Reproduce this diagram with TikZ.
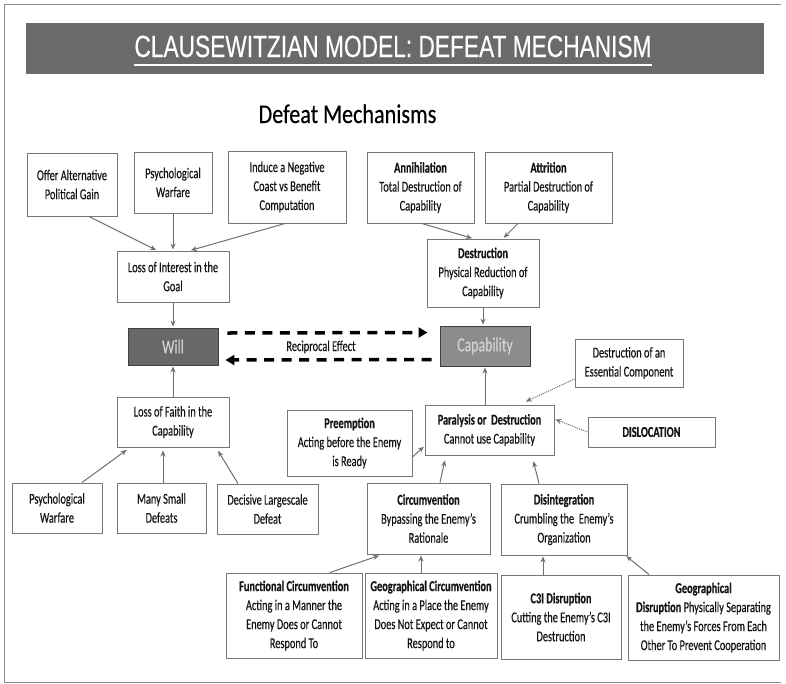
\documentclass[tikz,border=0pt]{standalone}
\usepackage{fontspec}
\setmainfont{Carlito}[FakeStretch=0.69, FakeBold=0.35]
\newfontfamily\titlefont{Liberation Sans}[FakeStretch=0.74, FakeBold=0.3]
\newfontfamily\headfont{Carlito}[FakeStretch=0.82, FakeBold=0.3]
\usetikzlibrary{arrows.meta}

\definecolor{barGray}{HTML}{6A6A6A}
\definecolor{boxGray}{HTML}{767676}
\definecolor{linkGray}{HTML}{6E6E6E}
\definecolor{inkGray}{HTML}{141414}
\definecolor{willGray}{HTML}{686868}
\definecolor{capGray}{HTML}{8C8C8C}

\begin{document}
\begin{tikzpicture}[x=1pt, y=-1pt, >={Stealth[length=6pt,width=5pt]},
    box/.style={draw=boxGray, line width=1pt, fill=white, align=center,
        text=inkGray, inner sep=1pt, font=\fontsize{15}{19}\selectfont},
    core/.style={draw=black!75, line width=0.9pt, text=black!18,
        font=\fontsize{20}{24}\selectfont},
    link/.style={->, draw=linkGray, line width=1pt, shorten >=1pt},
    dotlink/.style={link, densely dotted},
    bigdash/.style={-{Triangle[length=9pt,width=10pt]}, line width=3.5pt,
        dash pattern=on 10pt off 7.5pt}]
    \useasboundingbox (0,0) rectangle (786,683);

    % Frame and title bar
    \draw[black!45, line width=1pt] (781,4) -- (4,4) -- (4,682) -- (781,682);
    \fill[barGray] (26,23) rectangle (764,74);
    \node (title) at (393,57) [anchor=base, inner sep=0, text=white,
        font=\titlefont\fontsize{30.7}{32}\selectfont] {CLAUSEWITZIAN MODEL: DEFEAT MECHANISM};
    \draw[white, line width=1.6pt] ([yshift=-8pt]title.base west) -- ([yshift=-8pt]title.base east);
    \node (heading) at (347.5,123) [anchor=base, inner sep=0,
        font=\headfont\fontsize{27}{30}\selectfont] {Defeat Mechanisms};

    % Will side
    \node[box, minimum width=90pt, minimum height=63pt] (offer) at (72,184.5) {Offer Alternative\\Political Gain};
    \node[box, minimum width=78pt, minimum height=61pt] (psyA) at (173,182.5) {Psychological\\Warfare};
    \node[box, minimum width=118pt, minimum height=72pt] (induce) at (287,187) {Induce a Negative\\Coast vs Benefit\\Computation};
    \node[box, minimum width=112pt, minimum height=51pt] (interest) at (173,276.5) {Loss of Interest in the\\Goal};
    \node[core, fill=willGray, minimum width=90pt, minimum height=37pt] (will) at (173,346.5) {Will};
    \node[box, minimum width=112pt, minimum height=50pt] (faith) at (173,422) {Loss of Faith in the\\Capability};
    \node[box, minimum width=90pt, minimum height=50pt] (psyB) at (57,508) {Psychological\\Warfare};
    \node[box, minimum width=89pt, minimum height=50pt] (many) at (161.5,508) {Many Small\\Defeats};
    \node[box, minimum width=101pt, minimum height=50pt] (decis) at (267.5,509) {Decisive Largescale\\Defeat};

    % Capability side
    \node[box, minimum width=107pt, minimum height=71pt] (annih) at (420.5,187.5) {\textbf{Annihilation}\\Total Destruction of\\Capability};
    \node[box, minimum width=127pt, minimum height=71pt] (attr) at (548.5,187.5) {\textbf{Attrition}\\Partial Destruction of\\Capability};
    \node[box, minimum width=112pt, minimum height=68pt] (destr) at (483,273) {\textbf{Destruction}\\Physical Reduction of\\Capability};
    \node[core, fill=capGray, minimum width=90pt, minimum height=40pt] (capab) at (485,346) {Capability};
    \node[box, minimum width=108pt, minimum height=48pt] (essent) at (629,363) {Destruction of an\\Essential Component};
    \node[box, minimum width=129pt, minimum height=50pt] (paral) at (489.5,430) {\textbf{Paralysis or~ Destruction}\\Cannot use Capability};
    \node[box, minimum width=127pt, minimum height=30pt] (disloc) at (651.5,432) {\textbf{DISLOCATION}};
    \node[box, minimum width=125pt, minimum height=66pt] (preempt) at (349.5,443) {\textbf{Preemption}\\Acting before the Enemy\\is Ready};
    \node[box, minimum width=123pt, minimum height=71pt] (circ) at (428.5,518.5) {\textbf{Circumvention}\\Bypassing the Enemy's\\Rationale};
    \node[box, minimum width=126pt, minimum height=71pt] (disint) at (564,519.5) {\textbf{Disintegration}\\Crumbling the~ Enemy's\\Organization};
    \node[box, minimum width=136pt, minimum height=85pt] (func) at (294,615.5) {\textbf{Functional Circumvention}\\Acting in a Manner the\\Enemy Does or Cannot\\Respond To};
    \node[box, minimum width=132pt, minimum height=85pt] (geocirc) at (431,615.5) {\textbf{Geographical Circumvention}\\Acting in a Place the Enemy\\Does Not Expect or Cannot\\Respond to};
    \node[box, minimum width=120pt, minimum height=84pt] (c3i) at (561,617) {\textbf{C3I Disruption}\\Cutting the Enemy's C3I\\Destruction};
    \node[box, minimum width=151pt, minimum height=85pt] (geodis) at (703.5,617.5) {\textbf{Geographical}\\\textbf{Disruption} Physically Separating\\the Enemy's Forces From Each\\Other To Prevent Cooperation};

    % Reciprocal effect
    \draw[bigdash] ([xshift=9pt,yshift=13.5pt]will.east) -- ([xshift=-12pt,yshift=13.5pt]capab.west);
    \draw[bigdash] ([xshift=-8pt,yshift=-13.5pt]capab.west) -- ([xshift=7pt,yshift=-13.5pt]will.east);
    \node (recip) at (321,347) [font=\fontsize{15}{19}\selectfont, text=inkGray] {Reciprocal Effect};

    % Links into Will
    \draw[link] ([xshift=17pt]offer.south) -- ([xshift=-16pt]interest.north);
    \draw[link] (psyA.south) -- (interest.north);
    \draw[link] ([xshift=-2pt]induce.south) -- ([xshift=17pt]interest.north);
    \draw[link] (interest.south) -- (will.north);
    \draw[link] (faith.north) -- (will.south);
    \draw[link, shorten >=4pt] ([xshift=25pt]psyB.north) -- ([xshift=-43pt]faith.south);
    \draw[link, shorten >=3pt] ([xshift=1.5pt]many.north) -- ([xshift=-10pt]faith.south);
    \draw[link, shorten >=4pt] ([xshift=-29.5pt]decis.north) -- ([xshift=43pt]faith.south);

    % Links into Capability
    \draw[link] ([xshift=1.5pt]annih.south) -- ([xshift=-10pt]destr.north);
    \draw[link] ([xshift=-30.5pt]attr.south) -- ([xshift=20pt]destr.north);
    \draw[link] (destr.south) -- (destr.south |- capab.north);
    \draw[link] (paral.north -| capab.south) -- (capab.south);
    \draw[dotlink, shorten >=7pt] ([yshift=-16pt]essent.west) -- ([xshift=30pt]paral.north);
    \draw[dotlink] (disloc.west) -- ([yshift=11pt]paral.east);
    \draw[link] ([yshift=-14pt]preempt.east) -- ([yshift=-16pt]paral.west);
    \draw[link, shorten >=5pt] ([xshift=11.5pt]circ.north) -- ([xshift=-43.5pt]paral.south);
    \draw[link, shorten >=6pt] ([xshift=-25pt]disint.north) -- ([xshift=42.5pt]paral.south);
    \draw[link, shorten >=3pt] ([xshift=36pt]func.north) -- ([xshift=-46.5pt]circ.south);
    \draw[link] ([xshift=-10pt]geocirc.north) -- ([xshift=-7.5pt]circ.south);
    \draw[link] ([xshift=-18pt]c3i.north) -- ([xshift=-21pt]disint.south);
    \draw[link] ([xshift=-54.5pt]geodis.north) -- ([xshift=-2pt]disint.south east);
\end{tikzpicture}
\end{document}
